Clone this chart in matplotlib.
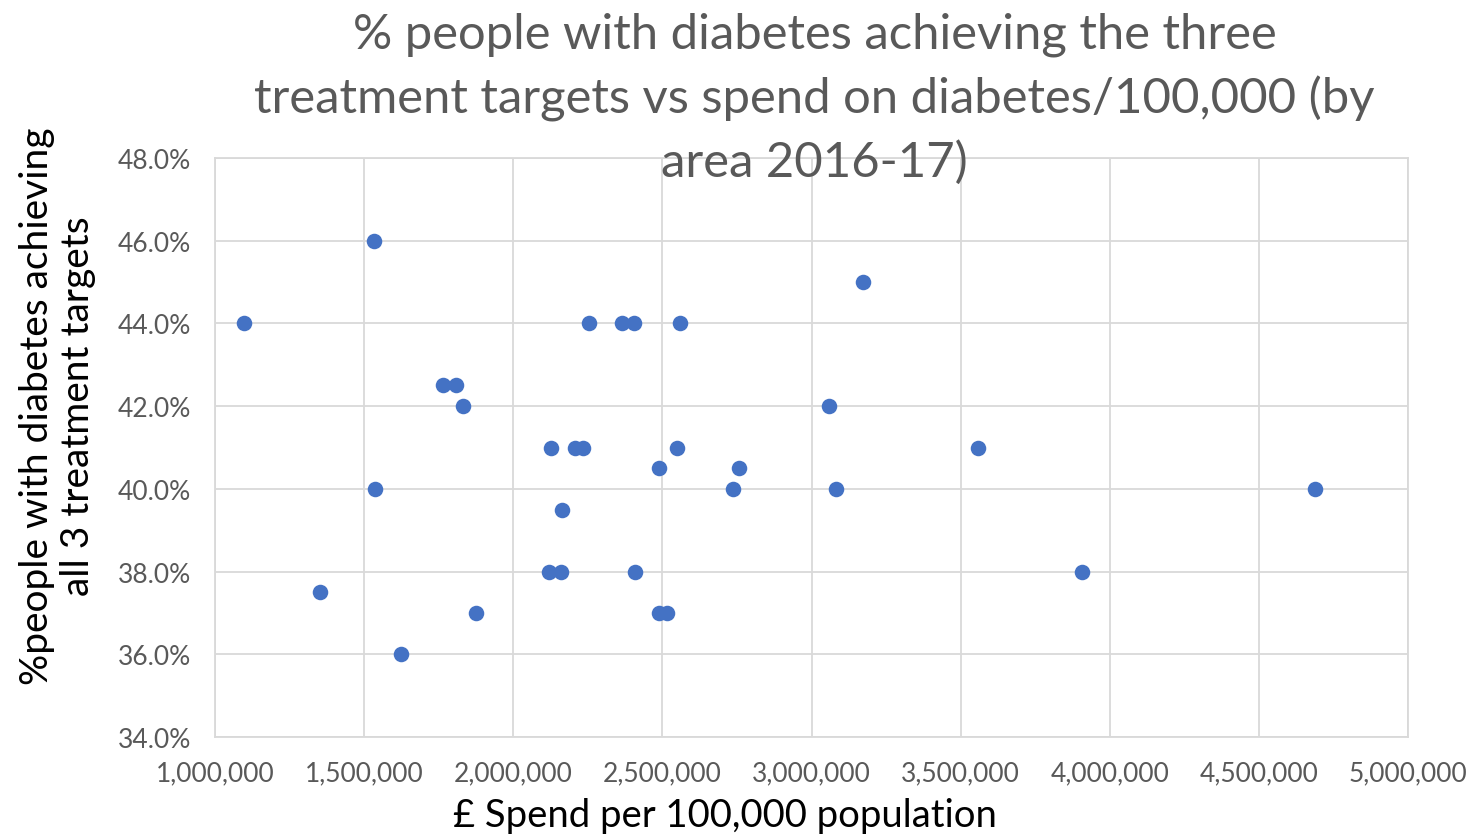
import matplotlib
matplotlib.use("Agg")
import matplotlib.pyplot as plt
from matplotlib.ticker import FuncFormatter, MultipleLocator

# Spend on diabetes per 100,000 population (£) and % achieving all 3 targets, by area
spend = [1097000, 1533000, 1536000, 1352000, 1624000, 1764000, 1808000, 1832000,
         1875000, 2120000, 2127000, 2160000, 2163000, 2207000, 2234000, 2254000,
         2365000, 2405000, 2408000, 2489000, 2489000, 2516000, 2549000, 2559000,
         2737000, 2757000, 3059000, 3082000, 3173000, 3558000, 3907000, 4688000]
achieving = [44.0, 46.0, 40.0, 37.5, 36.0, 42.5, 42.5, 42.0,
             37.0, 38.0, 41.0, 38.0, 39.5, 41.0, 41.0, 44.0,
             44.0, 44.0, 38.0, 40.5, 37.0, 37.0, 41.0, 44.0,
             40.0, 40.5, 42.0, 40.0, 45.0, 41.0, 38.0, 40.0]

title = ("% people with diabetes achieving the three\n"
         "treatment targets vs spend on diabetes/100,000 (by\n"
         "area 2016-17)")
x_label = "£ Spend per 100,000 population"
y_label = "%people with diabetes achieving\nall 3 treatment targets"

plt.rcParams["font.family"] = ["Lato", "DejaVu Sans"]

fig = plt.figure(figsize=(14.73, 8.37), dpi=100)
ax = fig.add_axes([0.146, 0.1183, 0.81, 0.6917])

grid_col = "#D9D9D9"
text_col = "#595959"

ax.scatter(spend, achieving, s=125, color="#4472C4", zorder=3, linewidths=0)

ax.set_xlim(1000000, 5000000)
ax.set_ylim(34, 48)
ax.xaxis.set_major_locator(MultipleLocator(500000))
ax.yaxis.set_major_locator(MultipleLocator(2))
ax.xaxis.set_major_formatter(FuncFormatter(lambda v, p: f"{int(round(v)):,}"))
ax.yaxis.set_major_formatter(FuncFormatter(lambda v, p: f"{v:.1f}%"))

ax.grid(True, color=grid_col, linewidth=1.3, zorder=0)
ax.set_axisbelow(True)
for s in ax.spines.values():
    s.set_color(grid_col)
    s.set_linewidth(1.3)
ax.tick_params(length=0, labelsize=19, colors=text_col)
ax.tick_params(axis="x", pad=17)
ax.tick_params(axis="y", pad=17)

fig.text(0.492, 0.004, x_label, ha="center", va="bottom", fontsize=27.5,
         color="black")
fig.text(0.039, 0.515, y_label, ha="center", va="center", rotation=90,
         fontsize=28, color="black", linespacing=1.15, multialignment="center")

fig.text(0.553, 0.985, title, ha="center", va="top", fontsize=35.3,
         color=text_col, linespacing=1.5, zorder=5)

fig.savefig("out.png", dpi=100, facecolor="white")
